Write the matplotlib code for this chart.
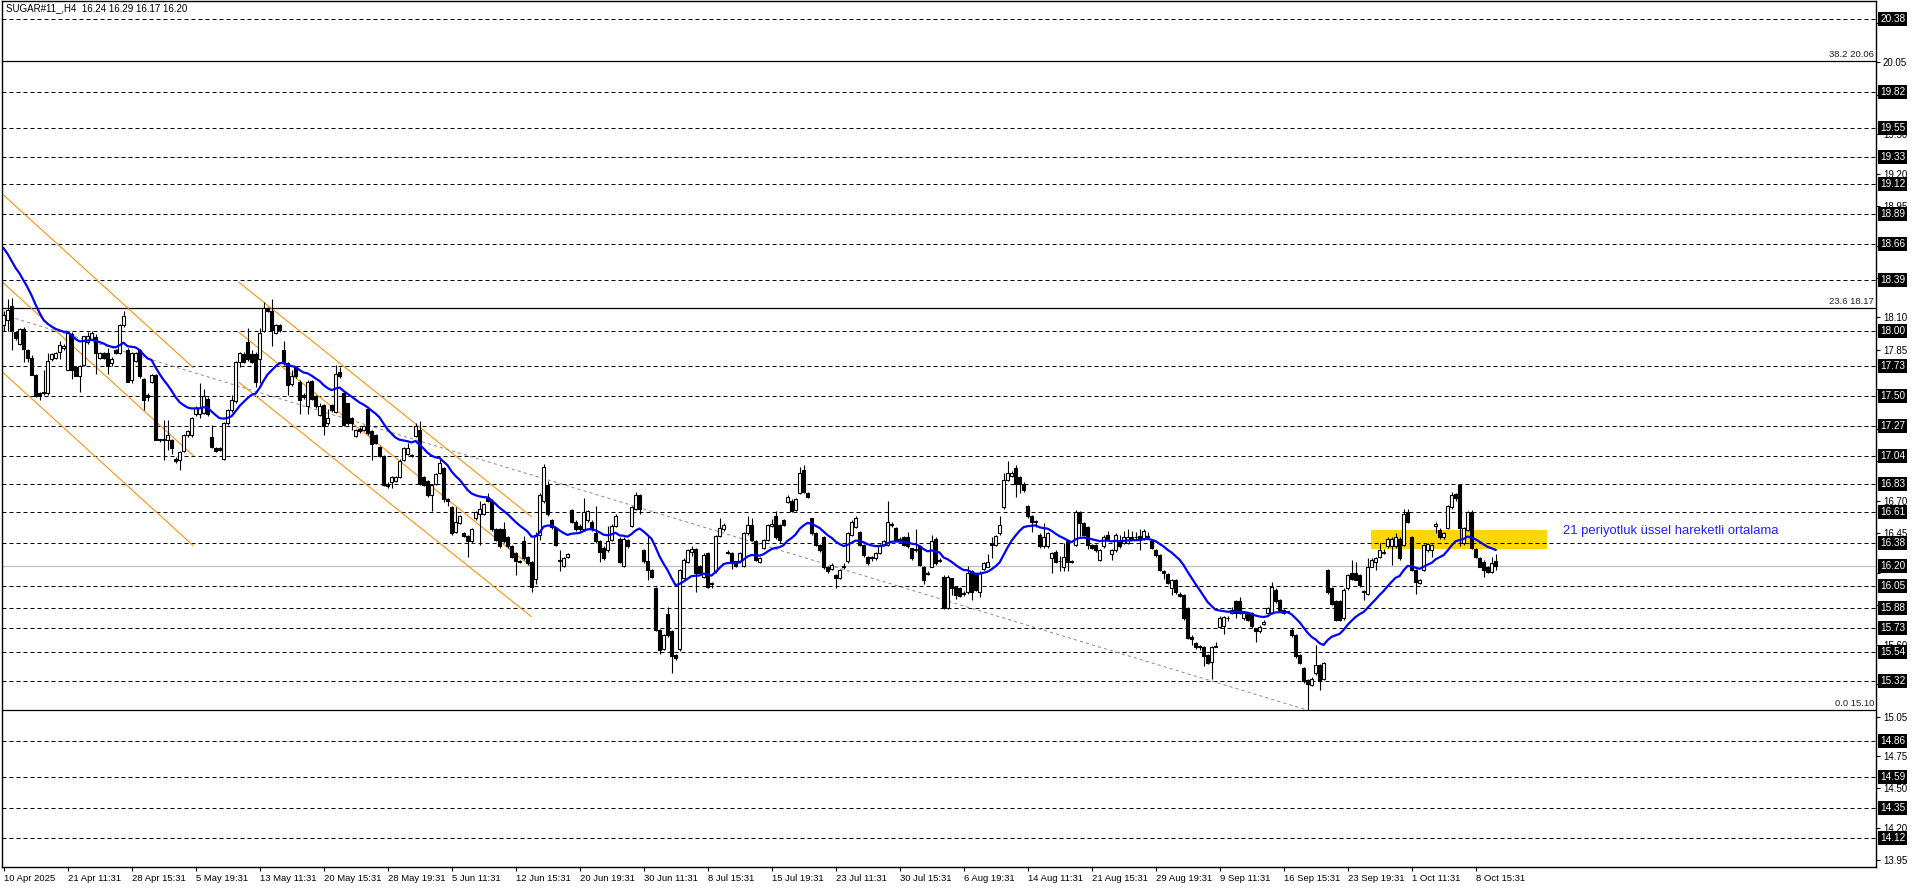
import numpy as np
import matplotlib.pyplot as plt
from matplotlib.patches import Rectangle
from matplotlib.transforms import blended_transform_factory

plt.rcParams['font.family'] = ['Liberation Sans', 'DejaVu Sans']

title = 'SUGAR#11_,H4  16.24 16.29 16.17 16.20'
date_labels = ['10 Apr 2025', '21 Apr 11:31', '28 Apr 15:31', '5 May 19:31', '13 May 11:31',
               '20 May 15:31', '28 May 19:31', '5 Jun 11:31', '12 Jun 15:31', '20 Jun 19:31',
               '30 Jun 11:31', '8 Jul 15:31', '15 Jul 19:31', '23 Jul 11:31', '30 Jul 15:31',
               '6 Aug 19:31', '14 Aug 11:31', '21 Aug 15:31', '29 Aug 19:31', '9 Sep 11:31',
               '16 Sep 15:31', '23 Sep 19:31', '1 Oct 11:31', '8 Oct 15:31']
label_step = 16

# H4 candles
opens = [
    18.04, 18.08, 18.19, 17.99, 17.90, 18.01, 17.85, 17.79, 17.66, 17.52,
    17.52, 17.52, 17.78, 17.79, 17.84, 17.87, 17.70, 17.975, 17.72, 17.655,
    17.74, 17.91, 17.935, 17.95, 17.79, 17.83, 17.83, 17.75, 17.85, 17.83,
    18.04, 17.85, 17.62, 17.77, 17.85, 17.63, 17.51, 17.61, 17.66, 17.17,
    17.16, 17.165, 17.165, 17.02, 17.01, 17.08, 17.20, 17.20, 17.36, 17.36,
    17.37, 17.48, 17.19, 17.10, 17.10, 17.02, 17.29, 17.39, 17.46, 17.76,
    17.82, 17.91, 17.82, 17.82, 17.78, 18.00, 18.17, 18.15, 17.98, 18.04,
    17.85, 17.75, 17.59, 17.725, 17.61, 17.51, 17.42, 17.615, 17.50, 17.355,
    17.43, 17.29, 17.43, 17.38, 17.68, 17.52, 17.445, 17.33, 17.195, 17.25,
    17.24, 17.40, 17.23, 17.20, 17.11, 17.04, 16.83, 16.84, 16.85, 16.88,
    17.01, 17.06, 17.04, 17.195, 17.24, 16.88, 16.85, 16.74, 16.83, 16.91,
    16.95, 16.71, 16.65, 16.46, 16.53, 16.45, 16.43, 16.39, 16.565, 16.60,
    16.60, 16.73, 16.70, 16.48, 16.48, 16.48, 16.425, 16.35, 16.30, 16.23,
    16.39, 16.27, 16.23, 16.10, 16.44, 16.70, 16.82, 16.55, 16.49, 16.25,
    16.20, 16.27, 16.63, 16.54, 16.51, 16.48, 16.55, 16.54, 16.45, 16.39,
    16.34, 16.32, 16.40, 16.51, 16.41, 16.20, 16.40, 16.51, 16.64, 16.74,
    16.325, 16.24, 16.17, 16.03, 15.71, 15.57, 15.83, 15.70, 15.52, 15.57,
    16.11, 16.23, 16.31, 16.33, 16.20, 16.12, 16.30, 16.06, 16.16, 16.43,
    16.48, 16.31, 16.30, 16.235, 16.235, 16.20, 16.45, 16.515, 16.39, 16.23,
    16.34, 16.40, 16.51, 16.58, 16.515, 16.55, 16.69, 16.70, 16.63, 16.76,
    16.935, 16.76, 16.565, 16.45, 16.36, 16.425, 16.195, 16.18, 16.13, 16.11,
    16.19, 16.235, 16.44, 16.50, 16.46, 16.36, 16.27, 16.26, 16.26, 16.30,
    16.36, 16.36, 16.52, 16.49, 16.41, 16.425, 16.425, 16.336, 16.32, 16.35,
    16.196, 16.14, 16.196, 16.41, 16.25, 16.12, 15.88, 16.107, 16.04, 16.03,
    15.99, 16.005, 16.16, 16.145, 16.005, 16.18, 16.196, 16.38, 16.36, 16.45,
    16.655, 16.86, 16.89, 16.95, 16.88, 16.83, 16.66, 16.58, 16.54, 16.44,
    16.35, 16.35, 16.26, 16.31, 16.235, 16.196, 16.39, 16.23, 16.36, 16.615,
    16.53, 16.50, 16.36, 16.36, 16.25, 16.35, 16.44, 16.29, 16.32, 16.39,
    16.375, 16.375, 16.425, 16.42, 16.43, 16.41, 16.43, 16.39, 16.32, 16.285,
    16.165, 16.14, 16.03, 16.094, 15.99, 15.98, 15.88, 15.66, 15.61, 15.585,
    15.585, 15.52, 15.47, 15.585, 15.737, 15.74, 15.80, 15.84, 15.93, 15.93,
    15.80, 15.84, 15.84, 15.725, 15.70, 15.76, 15.84, 15.84, 16.02, 15.94,
    15.865, 15.85, 15.71, 15.67, 15.52, 15.42, 15.33, 15.29, 15.38, 15.445,
    15.34, 16.17, 16.03, 15.93, 15.93, 15.80, 16.03, 16.15, 16.145, 16.13,
    16.00, 15.99, 16.196, 16.234, 16.27, 16.30, 16.35, 16.35, 16.35, 16.41,
    16.36, 16.61, 16.425, 16.17, 16.07, 16.17, 16.32, 16.32, 16.51, 16.476,
    16.425, 16.49, 16.655, 16.75, 16.82, 16.375, 16.476, 16.61, 16.33, 16.26,
    16.234, 16.196, 16.158, 16.24]
highs = [
    18.15, 18.24, 18.25, 18.00, 18.02, 18.03, 17.86, 17.81, 17.67, 17.53,
    17.70, 17.83, 17.83, 17.84, 17.92, 17.90, 17.99, 17.99, 17.73, 17.74,
    17.96, 17.99, 18.00, 17.97, 17.84, 17.84, 17.87, 17.80, 17.86, 18.05,
    18.15, 17.87, 17.84, 17.84, 17.86, 17.64, 17.52, 17.67, 17.67, 17.17,
    17.32, 17.32, 17.17, 17.03, 17.08, 17.21, 17.24, 17.34, 17.42, 17.60,
    17.55, 17.49, 17.28, 17.11, 17.11, 17.30, 17.40, 17.51, 17.77, 17.84,
    17.84, 18.02, 17.85, 17.84, 18.02, 18.22, 18.18, 18.24, 18.05, 18.05,
    17.92, 17.76, 17.70, 17.73, 17.62, 17.52, 17.62, 17.62, 17.51, 17.45,
    17.44, 17.40, 17.44, 17.74, 17.72, 17.53, 17.45, 17.34, 17.25, 17.26,
    17.28, 17.41, 17.24, 17.21, 17.12, 17.05, 16.84, 16.89, 16.89, 17.02,
    17.11, 17.14, 17.06, 17.29, 17.31, 16.89, 16.86, 16.83, 16.91, 17.02,
    16.96, 16.72, 16.66, 16.65, 16.59, 16.46, 16.44, 16.49, 16.62, 16.70,
    16.68, 16.76, 16.71, 16.49, 16.49, 16.54, 16.43, 16.36, 16.31, 16.25,
    16.43, 16.28, 16.24, 16.46, 16.76, 16.98, 16.85, 16.56, 16.50, 16.32,
    16.27, 16.30, 16.64, 16.55, 16.52, 16.72, 16.63, 16.55, 16.66, 16.40,
    16.35, 16.51, 16.52, 16.60, 16.42, 16.42, 16.41, 16.66, 16.77, 16.75,
    16.33, 16.44, 16.18, 16.04, 15.72, 15.68, 15.89, 15.71, 15.53, 16.18,
    16.26, 16.33, 16.35, 16.34, 16.21, 16.30, 16.31, 16.08, 16.44, 16.57,
    16.53, 16.32, 16.31, 16.24, 16.31, 16.46, 16.58, 16.57, 16.40, 16.27,
    16.41, 16.52, 16.56, 16.62, 16.52, 16.56, 16.74, 16.71, 16.72, 16.96,
    16.97, 16.77, 16.57, 16.46, 16.37, 16.43, 16.20, 16.22, 16.14, 16.18,
    16.22, 16.46, 16.55, 16.58, 16.47, 16.37, 16.28, 16.28, 16.31, 16.37,
    16.40, 16.70, 16.54, 16.50, 16.42, 16.43, 16.46, 16.34, 16.48, 16.36,
    16.20, 16.16, 16.44, 16.42, 16.26, 16.13, 16.13, 16.11, 16.05, 16.04,
    16.01, 16.20, 16.17, 16.15, 16.16, 16.23, 16.29, 16.42, 16.44, 16.58,
    16.91, 17.00, 16.93, 16.97, 16.89, 16.84, 16.67, 16.59, 16.55, 16.45,
    16.53, 16.46, 16.31, 16.32, 16.28, 16.38, 16.40, 16.25, 16.63, 16.62,
    16.54, 16.51, 16.37, 16.37, 16.33, 16.44, 16.47, 16.33, 16.45, 16.44,
    16.47, 16.48, 16.47, 16.46, 16.48, 16.48, 16.46, 16.40, 16.33, 16.29,
    16.17, 16.15, 16.10, 16.10, 16.00, 15.99, 15.89, 15.67, 15.62, 15.60,
    15.59, 15.53, 15.59, 15.62, 15.82, 15.82, 15.82, 15.89, 15.94, 15.96,
    15.85, 15.85, 15.85, 15.73, 15.75, 15.79, 15.89, 16.08, 16.03, 15.95,
    15.87, 15.86, 15.73, 15.68, 15.53, 15.43, 15.34, 15.35, 15.60, 15.45,
    15.47, 16.18, 16.04, 15.94, 15.94, 16.03, 16.14, 16.25, 16.23, 16.14,
    16.02, 16.26, 16.26, 16.27, 16.38, 16.33, 16.42, 16.42, 16.45, 16.42,
    16.64, 16.64, 16.43, 16.18, 16.10, 16.37, 16.38, 16.37, 16.54, 16.49,
    16.46, 16.67, 16.77, 16.76, 16.83, 16.50, 16.62, 16.63, 16.34, 16.27,
    16.25, 16.20, 16.27, 16.29]
lows = [
    18.00, 18.00, 17.85, 17.93, 17.89, 17.76, 17.76, 17.66, 17.49, 17.47,
    17.51, 17.51, 17.77, 17.78, 17.78, 17.85, 17.70, 17.63, 17.65, 17.53,
    17.73, 17.90, 17.93, 17.67, 17.78, 17.78, 17.67, 17.73, 17.82, 17.82,
    18.03, 17.61, 17.60, 17.76, 17.64, 17.39, 17.46, 17.60, 17.16, 17.15,
    17.01, 17.09, 17.06, 16.99, 16.935, 17.07, 17.19, 17.19, 17.35, 17.33,
    17.36, 17.35, 17.10, 17.07, 17.08, 17.01, 17.28, 17.38, 17.45, 17.72,
    17.75, 17.77, 17.75, 17.57, 17.60, 17.99, 18.14, 17.88, 17.97, 17.99,
    17.74, 17.51, 17.58, 17.64, 17.36, 17.48, 17.36, 17.47, 17.41, 17.35,
    17.20, 17.28, 17.38, 17.37, 17.64, 17.27, 17.28, 17.24, 17.19, 17.22,
    17.23, 17.20, 17.01, 17.13, 17.03, 16.81, 16.80, 16.80, 16.84, 16.87,
    17.00, 17.05, 17.03, 17.19, 16.82, 16.81, 16.73, 16.62, 16.82, 16.90,
    16.69, 16.66, 16.44, 16.45, 16.52, 16.42, 16.27, 16.38, 16.55, 16.36,
    16.59, 16.69, 16.47, 16.39, 16.34, 16.38, 16.34, 16.26, 16.13, 16.22,
    16.25, 16.21, 16.00, 16.06, 16.40, 16.68, 16.58, 16.48, 16.35, 16.16,
    16.19, 16.26, 16.53, 16.47, 16.46, 16.47, 16.54, 16.47, 16.38, 16.23,
    16.25, 16.31, 16.39, 16.50, 16.22, 16.19, 16.34, 16.50, 16.63, 16.60,
    16.22, 16.09, 16.11, 15.70, 15.53, 15.56, 15.66, 15.38, 15.48, 15.55,
    16.10, 16.22, 16.28, 16.00, 16.14, 16.11, 16.03, 16.03, 16.15, 16.42,
    16.47, 16.29, 16.18, 16.19, 16.22, 16.19, 16.44, 16.39, 16.24, 16.22,
    16.33, 16.39, 16.50, 16.41, 16.38, 16.51, 16.68, 16.61, 16.62, 16.75,
    16.76, 16.72, 16.44, 16.35, 16.31, 16.18, 16.15, 16.17, 16.03, 16.10,
    16.18, 16.22, 16.43, 16.49, 16.35, 16.27, 16.21, 16.24, 16.25, 16.29,
    16.35, 16.35, 16.50, 16.39, 16.38, 16.35, 16.34, 16.25, 16.31, 16.20,
    16.06, 16.13, 16.19, 16.21, 16.23, 15.87, 15.87, 15.98, 15.95, 15.96,
    15.97, 15.99, 15.94, 16.01, 15.96, 16.17, 16.19, 16.26, 16.35, 16.44,
    16.64, 16.85, 16.88, 16.73, 16.76, 16.77, 16.57, 16.46, 16.50, 16.34,
    16.34, 16.34, 16.15, 16.22, 16.16, 16.16, 16.16, 16.22, 16.35, 16.43,
    16.43, 16.33, 16.33, 16.31, 16.24, 16.34, 16.40, 16.25, 16.31, 16.34,
    16.37, 16.37, 16.40, 16.40, 16.32, 16.40, 16.41, 16.33, 16.27, 16.16,
    16.10, 16.06, 15.98, 15.99, 15.96, 15.79, 15.64, 15.60, 15.57, 15.56,
    15.44, 15.45, 15.34, 15.58, 15.73, 15.68, 15.78, 15.83, 15.80, 15.83,
    15.79, 15.78, 15.73, 15.62, 15.69, 15.75, 15.83, 15.83, 15.92, 15.86,
    15.83, 15.84, 15.66, 15.50, 15.45, 15.31, 15.10, 15.28, 15.37, 15.25,
    15.33, 15.99, 15.90, 15.78, 15.78, 15.79, 16.02, 16.09, 16.09, 16.04,
    15.94, 15.98, 16.19, 16.17, 16.26, 16.29, 16.34, 16.21, 16.34, 16.25,
    16.35, 16.53, 16.16, 15.99, 16.06, 16.16, 16.31, 16.27, 16.45, 16.41,
    16.41, 16.48, 16.64, 16.70, 16.35, 16.36, 16.47, 16.33, 16.26, 16.19,
    16.12, 16.15, 16.15, 16.17]
closes = [
    18.12, 18.16, 18.00, 17.94, 18.01, 17.86, 17.79, 17.66, 17.50, 17.50,
    17.53, 17.77, 17.82, 17.83, 17.89, 17.88, 17.985, 17.70, 17.655, 17.73,
    17.955, 17.96, 17.985, 17.83, 17.83, 17.79, 17.73, 17.78, 17.83, 18.04,
    18.11, 17.61, 17.83, 17.83, 17.65, 17.47, 17.49, 17.66, 17.165, 17.16,
    17.17, 17.20, 17.10, 17.00, 17.07, 17.20, 17.23, 17.33, 17.41, 17.41,
    17.50, 17.36, 17.11, 17.08, 17.09, 17.29, 17.39, 17.47, 17.76, 17.83,
    17.76, 17.78, 17.76, 17.61, 17.98, 18.17, 18.15, 18.005, 18.04, 18.005,
    17.75, 17.585, 17.65, 17.65, 17.47, 17.49, 17.61, 17.48, 17.42, 17.42,
    17.27, 17.33, 17.39, 17.67, 17.65, 17.28, 17.29, 17.29, 17.24, 17.23,
    17.27, 17.215, 17.13, 17.14, 17.04, 16.82, 16.81, 16.88, 16.88, 17.00,
    17.10, 17.10, 17.05, 17.27, 16.83, 16.82, 16.74, 16.82, 16.90, 16.99,
    16.71, 16.70, 16.45, 16.54, 16.58, 16.43, 16.39, 16.48, 16.61, 16.64,
    16.675, 16.70, 16.48, 16.40, 16.35, 16.39, 16.35, 16.27, 16.24, 16.24,
    16.26, 16.22, 16.04, 16.44, 16.74, 16.96, 16.60, 16.50, 16.36, 16.24,
    16.26, 16.29, 16.54, 16.48, 16.48, 16.61, 16.62, 16.48, 16.39, 16.31,
    16.26, 16.39, 16.51, 16.58, 16.23, 16.41, 16.35, 16.65, 16.74, 16.64,
    16.235, 16.17, 16.12, 15.71, 15.56, 15.67, 15.67, 15.51, 15.50, 16.17,
    16.25, 16.32, 16.33, 16.15, 16.15, 16.285, 16.04, 16.07, 16.43, 16.49,
    16.515, 16.30, 16.235, 16.20, 16.30, 16.45, 16.515, 16.40, 16.25, 16.26,
    16.40, 16.515, 16.52, 16.425, 16.40, 16.515, 16.73, 16.62, 16.71, 16.915,
    16.77, 16.73, 16.45, 16.36, 16.325, 16.195, 16.16, 16.21, 16.11, 16.17,
    16.20, 16.45, 16.54, 16.565, 16.36, 16.285, 16.22, 16.265, 16.30, 16.36,
    16.39, 16.54, 16.515, 16.40, 16.39, 16.36, 16.35, 16.26, 16.33, 16.21,
    16.094, 16.145, 16.39, 16.22, 16.24, 15.88, 16.12, 16.03, 15.98, 15.97,
    15.995, 16.15, 16.005, 16.02, 16.145, 16.226, 16.234, 16.36, 16.43, 16.515,
    16.86, 16.91, 16.91, 16.83, 16.83, 16.78, 16.58, 16.54, 16.54, 16.35,
    16.425, 16.45, 16.30, 16.23, 16.235, 16.27, 16.23, 16.24, 16.615, 16.53,
    16.44, 16.36, 16.34, 16.32, 16.32, 16.425, 16.41, 16.32, 16.44, 16.35,
    16.425, 16.425, 16.41, 16.42, 16.40, 16.47, 16.425, 16.34, 16.285, 16.17,
    16.145, 16.07, 16.094, 16.005, 15.97, 15.80, 15.65, 15.64, 15.585, 15.58,
    15.51, 15.46, 15.585, 15.585, 15.80, 15.81, 15.80, 15.865, 15.84, 15.84,
    15.84, 15.79, 15.74, 15.70, 15.737, 15.775, 15.877, 16.043, 15.93, 15.865,
    15.84, 15.85, 15.67, 15.51, 15.46, 15.32, 15.30, 15.34, 15.445, 15.32,
    15.46, 16.005, 15.91, 15.79, 15.79, 16.02, 16.13, 16.10, 16.094, 16.055,
    16.01, 16.196, 16.247, 16.26, 16.32, 16.31, 16.41, 16.41, 16.425, 16.26,
    16.60, 16.54, 16.17, 16.08, 16.09, 16.36, 16.37, 16.36, 16.52, 16.425,
    16.45, 16.66, 16.744, 16.72, 16.49, 16.49, 16.61, 16.34, 16.27, 16.196,
    16.17, 16.158, 16.226, 16.20]

ema_period = 21
ema_start = 18.63   # EMA value at the first visible bar

level_lines = [20.38, 19.82, 19.55, 19.33, 19.12, 18.89, 18.66, 18.39, 18.00, 17.73,
               17.50, 17.27, 17.04, 16.83, 16.61, 16.38, 16.05, 15.88, 15.73, 15.54,
               15.32, 14.86, 14.59, 14.35, 14.12]
fib_levels = [20.06, 18.17, 15.10]
fib_names = ['38.2', '23.6', '0.0']
last_price = 16.20
price_ticks = [20.35, 20.05, 19.80, 19.50, 19.20, 18.95, 18.65, 18.40, 18.10, 17.85,
               17.55, 17.25, 17.00, 16.70, 16.45, 16.15, 15.90, 15.60, 15.30, 15.05,
               14.75, 14.50, 14.20, 13.95]
# tick labels that sit under the price boxes
hidden_ticks = [20.35, 19.80, 17.55, 17.25, 17.00, 16.15, 15.30]

# trend channels: (bar, price) end points
channel_a = [((-0.875, 19.06), (47.4, 17.718)),
             ((-0.875, 18.387), (47.4, 17.045)),
             ((-0.875, 17.70), (47.4, 16.357))]
channel_b = [((58.8, 18.37), (131.9, 16.579)),
             ((58.8, 17.988), (131.9, 16.197)),
             ((58.8, 17.605), (131.9, 15.815))]
trend_line = ((-0.05, 18.12), (325.9, 15.10))
zone_bars = (341.8, 385.8)
zone_prices = (16.33, 16.476)
note_text = '21 periyotluk üssel hareketli ortalama'
note_at = (389.8, 16.468)

o = np.array(opens)
h = np.array(highs)
l = np.array(lows)
c = np.array(closes)
idx = np.arange(len(c))

k = 2.0 / (ema_period + 1)
ema = np.empty(len(c))
ema[0] = ema_start
for i in range(1, len(c)):
    ema[i] = ema[i-1] + k * (c[i] - ema[i-1])

W, H = 1916, 888
fig = plt.figure(figsize=(W/100, H/100), dpi=100)
fig.patch.set_facecolor('white')
ax = fig.add_axes([2/W, 21/H, 1874/W, 866/H])
ax.set_xlim(-0.375, 468.1)
ax.set_ylim(13.90, 20.519)

ax.add_patch(Rectangle((zone_bars[0], zone_prices[0]), zone_bars[1]-zone_bars[0],
                       zone_prices[1]-zone_prices[0], fc='#FFD700', ec='none', zorder=0.5))

for v in level_lines:
    ax.axhline(v, color='black', lw=0.72, dashes=(4, 3), zorder=1)
for v in fib_levels:
    ax.axhline(v, color='black', lw=0.9, zorder=1)
ax.axhline(last_price, color='#C0C0C0', lw=0.9, zorder=1)

for (x0, y0), (x1, y1) in channel_a + channel_b:
    ax.plot([x0, x1], [y0, y1], color='#FF8C00', lw=0.75, zorder=1.5)
(x0, y0), (x1, y1) = trend_line
ax.plot([x0, x1], [y0, y1], color='#909090', lw=0.75, dashes=(3, 3), zorder=1.5)

# candles
ax.vlines(idx, l, h, color='black', lw=0.8, zorder=3)
up = c >= o
body_lo = np.minimum(o, c)
body_h = np.maximum(np.abs(c - o), 0.006)
ax.bar(idx[up], body_h[up], bottom=body_lo[up], width=0.55, color='white',
       edgecolor='black', linewidth=0.8, zorder=4)
ax.bar(idx[~up], body_h[~up], bottom=body_lo[~up], width=0.55, color='black',
       edgecolor='black', linewidth=0.8, zorder=4)

ax.plot(idx, ema, color='#0000FF', lw=1.6, zorder=5)

ax.text(note_at[0], note_at[1], note_text, color='#2020FF', fontsize=9.4,
        va='center', ha='left', zorder=6)

# fibo labels
tr = blended_transform_factory(ax.transAxes, ax.transData)
for name, v in zip(fib_names, fib_levels):
    ax.annotate(f'{name} {v:.2f}', xy=(1, v), xycoords=tr, xytext=(-2, 2),
                textcoords='offset pixels', ha='right', va='bottom', fontsize=6.8,
                color='#202020', zorder=6)

# price axis
ax.yaxis.tick_right()
ax.set_yticks(price_ticks)
ax.set_yticklabels(['' if v in hidden_ticks else f'{v:.2f}' for v in price_ticks])
ax.tick_params(axis='y', direction='out', length=3, width=0.8, pad=2, labelsize=7)
for v in level_lines + [last_price]:
    ax.annotate(f'{v:.2f}', xy=(1, v), xycoords=tr, xytext=(4, 0),
                textcoords='offset pixels', ha='left', va='center', fontsize=7.2,
                color='white', annotation_clip=False, zorder=10,
                bbox=dict(boxstyle='square,pad=0.2', fc='black', ec='none'))

# time axis
ax.set_xticks(idx[::label_step])
ax.set_xticklabels(date_labels)
ax.tick_params(axis='x', direction='out', length=3, width=0.8, pad=2, labelsize=6.8)
for t in ax.get_xticklabels():
    t.set_horizontalalignment('left')

for s in ax.spines.values():
    s.set_color('black')
    s.set_linewidth(1.0)

fig.text(6/W, 1 - 8/H, title, fontsize=7, va='center', ha='left')

fig.savefig('out.png', dpi=100, facecolor='white')
